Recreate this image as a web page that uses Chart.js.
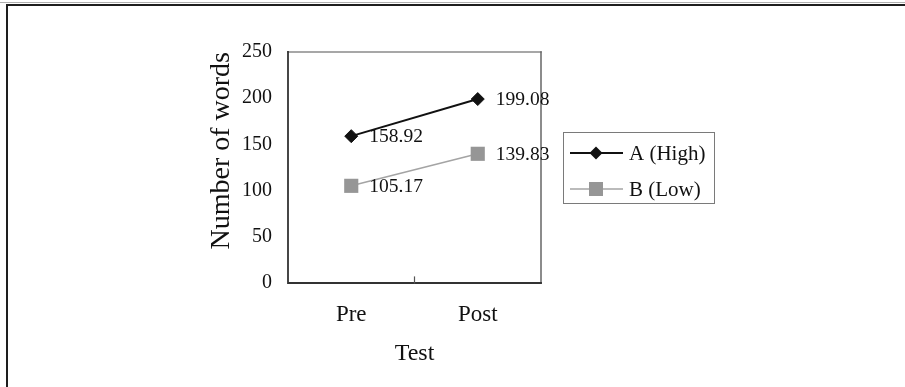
<!DOCTYPE html>
<html><head><meta charset="utf-8">
<script src="https://cdn.jsdelivr.net/npm/chart.js@4/dist/chart.umd.min.js"></script>
<style>
html,body{margin:0;padding:0;background:#fff;}
#wrap{position:relative;width:905px;height:387px;overflow:hidden;background:#fff;}
#frame{position:absolute;left:6px;top:4px;width:950px;height:450px;border-left:2px solid #1e1e1e;border-top:2px solid #1e1e1e;}
#topline{position:absolute;left:0;top:2px;width:905px;height:1px;background:#b0b0b0;}
canvas{position:absolute;left:0;top:0;}
</style></head><body>
<div id="wrap"><div id="topline"></div><div id="frame"></div><canvas id="c" width="905" height="387"></canvas></div>
<script>
const categories = ['Pre', 'Post'];
const seriesNames = ['A (High)', 'B (Low)'];
const valuesA = [158.92, 199.08];
const valuesB = [105.17, 139.83];
const yTicks = [0, 50, 100, 150, 200, 250];
const xTitle = 'Test';
const yTitle = 'Number of words';

const SERIF = '"Liberation Serif", "Times New Roman", serif';

const framePlugin = {
  id: 'frame',
  beforeDatasetsDraw(chart) {
    const {ctx, chartArea: a} = chart;
    const xs = chart.scales.x;
    ctx.save();
    ctx.lineCap = 'square';
    ctx.strokeStyle = '#8a8a8a';
    ctx.lineWidth = 1.5;
    ctx.beginPath();
    ctx.moveTo(a.left, a.top); ctx.lineTo(a.right, a.top);
    ctx.stroke();
    ctx.strokeStyle = '#666';
    ctx.beginPath();
    ctx.moveTo(a.right, a.top); ctx.lineTo(a.right, a.bottom);
    ctx.stroke();
    ctx.strokeStyle = '#333';
    ctx.lineWidth = 1.8;
    ctx.beginPath();
    ctx.moveTo(a.left, a.top); ctx.lineTo(a.left, a.bottom); ctx.lineTo(a.right, a.bottom);
    ctx.stroke();
    ctx.lineWidth = 1.2;
    ctx.strokeStyle = '#555';
    for (let i = 0; i < categories.length - 1; i++) {
      const m = (xs.getPixelForValue(i) + xs.getPixelForValue(i + 1)) / 2;
      ctx.beginPath(); ctx.moveTo(m, a.bottom); ctx.lineTo(m, a.bottom - 6); ctx.stroke();
    }
    ctx.restore();
  }
};

const labelPlugin = {
  id: 'valueLabels',
  afterDatasetsDraw(chart) {
    const {ctx} = chart;
    ctx.save();
    ctx.font = '19.5px ' + SERIF;
    ctx.fillStyle = '#111';
    ctx.textAlign = 'left';
    ctx.textBaseline = 'middle';
    chart.data.datasets.forEach((ds, di) => {
      chart.getDatasetMeta(di).data.forEach((pt, i) => {
        ctx.fillText(ds.data[i].toFixed(2), pt.x + 18, pt.y + 1);
      });
    });
    ctx.restore();
  }
};

const legendPlugin = {
  id: 'boxLegend',
  afterDraw(chart) {
    const {ctx} = chart;
    const bx = 563.5, by = 132.5, bw = 151, bh = 71;
    ctx.save();
    ctx.strokeStyle = '#7a7a7a';
    ctx.lineWidth = 1;
    ctx.strokeRect(bx, by, bw, bh);
    const rows = [153, 189];
    chart.data.datasets.forEach((ds, i) => {
      const y = rows[i];
      ctx.strokeStyle = ds.borderColor;
      ctx.lineWidth = ds.borderWidth;
      ctx.beginPath(); ctx.moveTo(570, y); ctx.lineTo(623, y); ctx.stroke();
      ctx.fillStyle = ds.pointBackgroundColor;
      const cx = 596;
      ctx.beginPath();
      if (ds.pointStyle === 'rectRot') {
        const r = 6.5;
        ctx.moveTo(cx - r, y); ctx.lineTo(cx, y - r); ctx.lineTo(cx + r, y); ctx.lineTo(cx, y + r);
        ctx.closePath();
      } else {
        ctx.rect(cx - 7, y - 7, 14, 14);
      }
      ctx.fill();
      ctx.fillStyle = '#111';
      ctx.font = '21px ' + SERIF;
      ctx.textAlign = 'left';
      ctx.textBaseline = 'middle';
      ctx.fillText(ds.label, 629, y + 1);
    });
    ctx.restore();
  }
};

new Chart(document.getElementById('c'), {
  type: 'line',
  data: {
    labels: categories,
    datasets: [
      {
        label: seriesNames[0],
        data: valuesA,
        borderColor: '#111',
        borderWidth: 2,
        pointStyle: 'rectRot',
        pointRadius: 6.5,
        pointBackgroundColor: '#111',
        pointBorderColor: '#111',
        pointBorderWidth: 1,
        fill: false,
        tension: 0
      },
      {
        label: seriesNames[1],
        data: valuesB,
        borderColor: '#a4a4a4',
        borderWidth: 1.5,
        pointStyle: 'rect',
        pointRadius: 10,
        pointBackgroundColor: '#969696',
        pointBorderColor: '#969696',
        pointBorderWidth: 0,
        fill: false,
        tension: 0
      }
    ]
  },
  options: {
    responsive: false,
    animation: false,
    events: [],
    layout: { padding: { left: 190, right: 364, top: 52, bottom: 0 } },
    plugins: { legend: { display: false }, tooltip: { enabled: false } },
    scales: {
      x: {
        type: 'category',
        offset: true,
        grid: { display: false, drawTicks: false },
        border: { display: false },
        ticks: { color: '#111', font: { family: SERIF, size: 23 }, padding: 18, maxRotation: 0 },
        title: { display: true, text: xTitle, color: '#111', font: { family: SERIF, size: 24 }, padding: { top: 0, bottom: 19 } },
        afterFit(s) { s.height = 104; }
      },
      y: {
        min: yTicks[0],
        max: yTicks[yTicks.length - 1],
        grid: { display: false, drawTicks: false },
        border: { display: false },
        ticks: { stepSize: yTicks[1] - yTicks[0], color: '#111', font: { family: SERIF, size: 20 }, padding: 16 },
        title: { display: true, text: yTitle, align: 'end', color: '#111', font: { family: SERIF, size: 28 }, padding: { top: 15, bottom: 0 } },
        afterFit(s) { s.width = 98; }
      }
    }
  },
  plugins: [framePlugin, labelPlugin, legendPlugin]
});
</script>
</body></html>
